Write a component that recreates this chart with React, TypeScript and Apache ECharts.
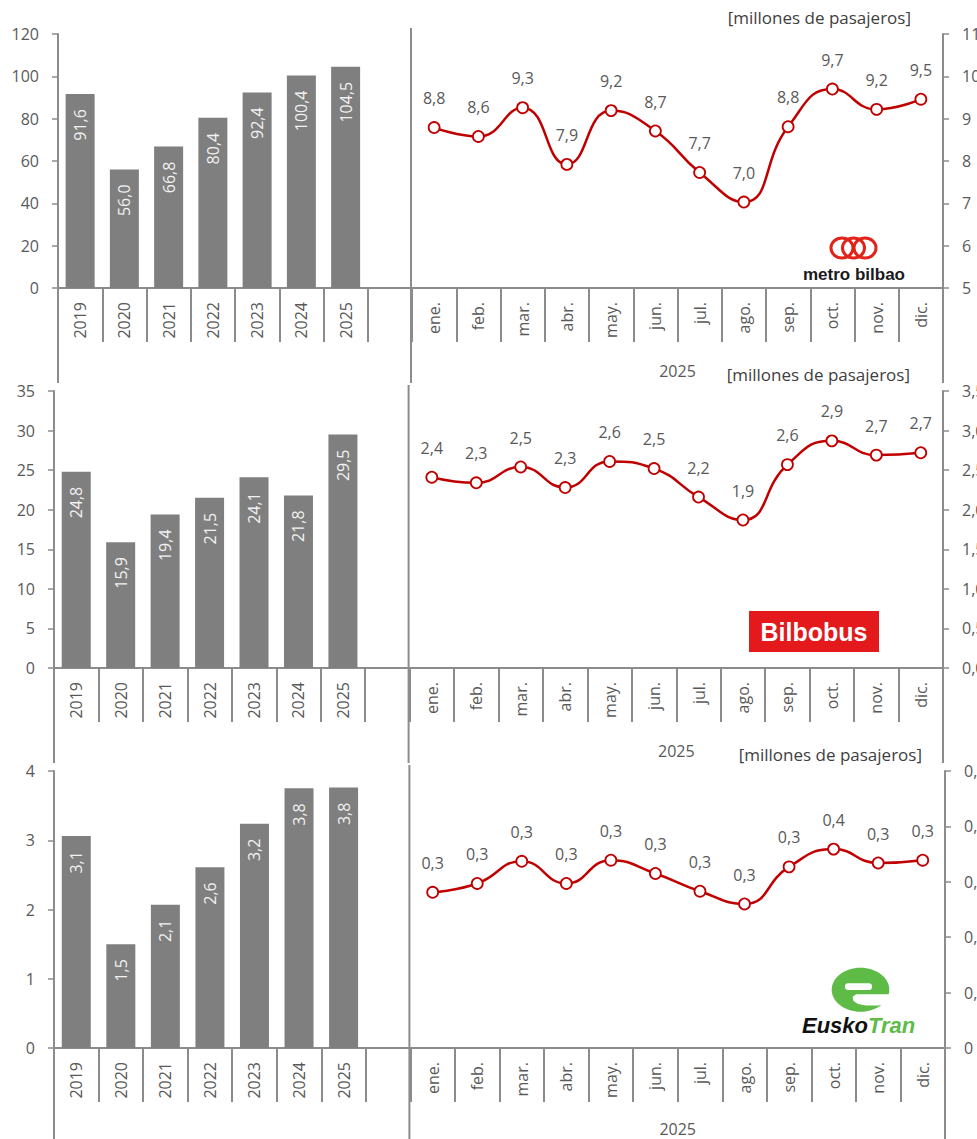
import React, { useEffect, useRef } from 'react';
import * as echarts from 'echarts';

const years = ['2019', '2020', '2021', '2022', '2023', '2024', '2025'];
const months = ['ene.', 'feb.', 'mar.', 'abr.', 'may.', 'jun.', 'jul.', 'ago.', 'sep.', 'oct.', 'nov.', 'dic.'];
const groupLabel = '2025';
const unitLabel = '[millones de pasajeros]';

const metroAnnual = [91.6, 56.0, 66.8, 80.4, 92.4, 100.4, 104.5];
const metroMonthly = [8.79, 8.58, 9.26, 7.92, 9.19, 8.71, 7.73, 7.03, 8.81, 9.7, 9.22, 9.46];
const bilbobusAnnual = [24.8, 15.9, 19.4, 21.5, 24.1, 21.8, 29.5];
const bilbobusMonthly = [2.41, 2.34, 2.54, 2.28, 2.61, 2.52, 2.16, 1.87, 2.57, 2.87, 2.69, 2.72];
const euskotranAnnual = [3.06, 1.5, 2.07, 2.61, 3.24, 3.75, 3.76];
const euskotranMonthly = [0.281, 0.297, 0.337, 0.297, 0.339, 0.315, 0.283, 0.26, 0.327, 0.359, 0.334, 0.339];

// axis ranges [min, max, interval]
const metroLeftAxis = [0, 120, 20];
const metroRightAxis = [5, 11, 1];
const bilbobusLeftAxis = [0, 35, 5];
const bilbobusRightAxis = [0, 3.5, 0.5];
const euskotranLeftAxis = [0, 4, 1];
const euskotranRightAxis = [0, 0.5, 0.1];

const FONT = '"Open Sans", sans-serif';
const TXT = '#595959';
const AX = '#8c8c8c';
const RED = '#c00000';
const BAR = '#7f7f7f';
const GREEN = '#5dbb46';

const fmt1 = (v: number) => v.toFixed(1).replace('.', ',');

const categories = [...years, '', ...months];

const panels = [
  {
    annual: metroAnnual, monthly: metroMonthly, left: 58, top: 34, width: 885, height: 254,
    la: metroLeftAxis, ra: metroRightAxis, rf: (v: number) => String(Math.round(v)), unitRight: 911, groupDy: 83,
  },
  {
    annual: bilbobusAnnual, monthly: bilbobusMonthly, left: 54, top: 391, width: 889, height: 277,
    la: bilbobusLeftAxis, ra: bilbobusRightAxis, rf: (v: number) => fmt1(v), unitRight: 910, groupDy: 83,
  },
  {
    annual: euskotranAnnual, monthly: euskotranMonthly, left: 54, top: 771, width: 891, height: 277,
    la: euskotranLeftAxis, ra: euskotranRightAxis, rf: (v: number) => (Math.abs(v) < 1e-9 ? '0' : fmt1(v)), unitRight: 922, groupDy: 81,
  },
];

function buildOption() {
  const grid: any[] = [];
  const xAxis: any[] = [];
  const yAxis: any[] = [];
  const series: any[] = [];
  const graphic: any[] = [];
  const n = categories.length;

  panels.forEach((p, i) => {
    grid.push({ left: p.left, top: p.top, width: p.width, height: p.height, containLabel: false, outerBoundsMode: 'none' });
    xAxis.push({
      type: 'category', gridIndex: i, data: categories, position: 'bottom',
      boundaryGap: true,
      axisLine: { show: true, lineStyle: { color: AX, width: 2 } },
      axisTick: { show: true, interval: 0, length: 54, alignWithLabel: false, lineStyle: { color: AX, width: 2 } },
      axisLabel: { interval: 0, rotate: 90, margin: 14, color: TXT, fontSize: 16, fontFamily: FONT },
      splitLine: { show: false },
    });
    const axisCommon = {
      type: 'value', gridIndex: i, splitLine: { show: false },
      axisLine: { show: true, lineStyle: { color: AX, width: 2 } },
      axisTick: { show: true, length: 6, lineStyle: { color: AX, width: 1.5 } },
    };
    yAxis.push({
      ...axisCommon, position: 'left', min: p.la[0], max: p.la[1], interval: p.la[2],
      axisLabel: { color: TXT, fontSize: 16, fontFamily: FONT, margin: 19 },
    });
    yAxis.push({
      ...axisCommon, position: 'right', min: p.ra[0], max: p.ra[1], interval: p.ra[2],
      axisLabel: { color: TXT, fontSize: 16, fontFamily: FONT, margin: 19, formatter: p.rf },
    });

    series.push({
      type: 'bar', xAxisIndex: i, yAxisIndex: 2 * i,
      data: [...p.annual, ...months.map(() => '-'), '-'],
      barWidth: 29,
      itemStyle: { color: BAR },
      label: {
        show: true, position: 'insideTop', rotate: 90, align: 'right', verticalAlign: 'middle',
        distance: 15, color: '#f2f2f2', fontSize: 16, fontFamily: FONT,
        formatter: (q: any) => fmt1(Number(q.value)),
      },
    });
    series.push({
      type: 'line', xAxisIndex: i, yAxisIndex: 2 * i + 1,
      data: [...years.map(() => '-'), '-', ...p.monthly],
      smooth: 0.5, symbol: 'circle', symbolSize: 11,
      lineStyle: { color: RED, width: 2.5 },
      itemStyle: { color: '#ffffff', borderColor: RED, borderWidth: 1.8 },
      label: {
        show: true, position: 'top', distance: 15, color: TXT, fontSize: 16, fontFamily: FONT,
        formatter: (q: any) => fmt1(Number(q.value)),
      },
      z: 3,
    });

    const cw = p.width / n;
    const axisY = p.top + p.height;
    const lineStyle = { stroke: AX, lineWidth: 2 };
    [0, n].forEach((k) => {
      graphic.push({ type: 'line', shape: { x1: p.left + k * cw, y1: axisY, x2: p.left + k * cw, y2: axisY + 95 }, style: lineStyle, silent: true });
    });
    const divX = p.left + 8 * cw - 1;
    graphic.push({ type: 'line', shape: { x1: divX, y1: p.top - 6, x2: divX, y2: axisY + 95 }, style: lineStyle, silent: true });
    graphic.push({
      type: 'text', x: p.left + 14 * cw, y: axisY + p.groupDy,
      style: { text: groupLabel, fill: TXT, font: `16px ${FONT}`, textAlign: 'center', textVerticalAlign: 'middle', align: 'center', verticalAlign: 'middle' },
      silent: true,
    });
    graphic.push({
      type: 'text', x: p.unitRight, y: p.top - 17,
      style: { text: unitLabel, fill: '#404040', font: `17px ${FONT}`, textAlign: 'right', textVerticalAlign: 'middle', align: 'right', verticalAlign: 'middle' },
      silent: true,
    });
  });

  // metro bilbao logo
  [842, 853.5, 865].forEach((cx) => {
    graphic.push({ type: 'ellipse', shape: { cx, cy: 248, rx: 11, ry: 10 }, style: { fill: 'none', stroke: '#e2231a', lineWidth: 3 }, silent: true });
  });
  graphic.push({
    type: 'text', x: 854, y: 274,
    style: { text: 'metro bilbao', fill: '#1a1a1a', font: 'bold 17px "Liberation Sans", Arial, sans-serif', textAlign: 'center', textVerticalAlign: 'middle', align: 'center', verticalAlign: 'middle' },
    silent: true,
  });

  // Bilbobus logo
  graphic.push({ type: 'rect', shape: { x: 749, y: 611, width: 130, height: 41 }, style: { fill: '#e3191b' }, silent: true });
  graphic.push({
    type: 'text', x: 814, y: 632,
    style: { text: 'Bilbobus', fill: '#ffffff', font: 'bold 25px "Liberation Sans", Arial, sans-serif', textAlign: 'center', textVerticalAlign: 'middle', align: 'center', verticalAlign: 'middle' },
    silent: true,
  });

  // EuskoTran logo
  graphic.push({ type: 'ellipse', shape: { cx: 860.5, cy: 989.7, rx: 28.8, ry: 22 }, style: { fill: GREEN }, silent: true });
  graphic.push({ type: 'rect', shape: { x: 845, y: 983.3, width: 27, height: 6.7, r: 3 }, style: { fill: '#ffffff' }, silent: true });
  graphic.push({
    type: 'polygon',
    shape: { points: [[891, 994.3], [856, 994.3], [852.5, 997], [853.5, 1001], [858, 1004], [866, 1005.5], [878, 1005.5], [891, 1003]] },
    style: { fill: '#ffffff' }, silent: true,
  });
  graphic.push({
    type: 'text', x: 868, y: 1025,
    style: { text: 'Eusko', fill: '#111111', font: 'italic bold 22px "Liberation Sans", Arial, sans-serif', textAlign: 'right', textVerticalAlign: 'middle', align: 'right', verticalAlign: 'middle' },
    silent: true,
  });
  graphic.push({
    type: 'text', x: 868, y: 1025,
    style: { text: 'Tran', fill: GREEN, font: 'italic bold 22px "Liberation Sans", Arial, sans-serif', textAlign: 'left', textVerticalAlign: 'middle', align: 'left', verticalAlign: 'middle' },
    silent: true,
  });

  return { animation: false, backgroundColor: '#ffffff', grid, xAxis, yAxis, series, graphic };
}

export default function App() {
  const ref = useRef<HTMLDivElement>(null);
  useEffect(() => {
    const chart = echarts.init(ref.current as HTMLDivElement, null, { renderer: 'svg' });
    chart.setOption(buildOption() as any);
    return () => chart.dispose();
  }, []);
  return (
    <div
      ref={ref}
      style={{ position: 'fixed', left: 0, top: 0, width: 977, height: 1139, overflow: 'hidden', background: '#ffffff' }}
    />
  );
}
